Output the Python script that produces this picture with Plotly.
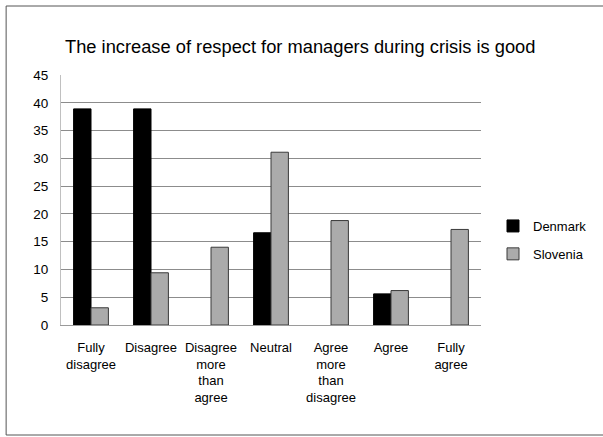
import plotly.graph_objects as go

categories = ["Fully<br>disagree", "Disagree", "Disagree<br>more<br>than<br>agree", "Neutral",
              "Agree<br>more<br>than<br>disagree", "Agree", "Fully<br>agree"]
denmark = [38.9, 38.9, None, 16.6, None, 5.6, None]
slovenia = [3.1, 9.4, 14.0, 31.1, 18.8, 6.2, 17.2]
y_ticks = [0, 5, 10, 15, 20, 25, 30, 35, 40, 45]

W, H = 603, 437
L, R, T, B = 61, 482, 75, 325

fig = go.Figure()
fig.add_trace(go.Bar(x=categories, y=denmark, name="Denmark", legendgroup="a",
                     marker=dict(color="#000000", line=dict(color="#000000", width=1))))
fig.add_trace(go.Bar(x=categories, y=slovenia, name="Slovenia", legendgroup="b",
                     marker=dict(color="#ababab", line=dict(color="#3a3a3a", width=1))))

def px(x):
    return (x - L) / (R - L)

def py(y):
    return (B - y) / (B - T)

fig.update_layout(
    width=W, height=H,
    margin=dict(l=L, r=W - R, t=T, b=H - B),
    paper_bgcolor="white", plot_bgcolor="white",
    font=dict(family="Liberation Sans", size=13, color="#000000"),
    bargap=0.42, bargroupgap=0,
    title=dict(text="The increase of respect for managers during crisis is good",
               x=px(65), xanchor="left", xref="paper",
               y=1 - 47 / H, yanchor="middle",
               font=dict(family="Liberation Sans", size=18.3, color="#000000")),
    showlegend=True,
    legend=dict(x=px(493), xanchor="left", y=py(240), yanchor="middle",
                font=dict(size=13), tracegroupgap=8, itemwidth=30,
                bgcolor="rgba(0,0,0,0)"),
    shapes=[dict(type="rect", xref="paper", yref="paper",
                 x0=px(6), x1=px(700), y0=py(435), y1=py(6),
                 line=dict(color="#555555", width=1), fillcolor="rgba(0,0,0,0)", layer="below")],
)
fig.update_xaxes(showgrid=False, showline=True, linecolor="#9a9a9a", linewidth=1,
                 ticks="outside", ticklen=10, tickcolor="rgba(0,0,0,0)",
                 tickfont=dict(size=13), tickangle=0)
fig.update_yaxes(range=[0, 45], tickvals=y_ticks, showgrid=True, gridcolor="#8c8c8c", gridwidth=1,
                 showline=True, linecolor="#c0c0c0", linewidth=1, zeroline=False,
                 ticks="outside", ticklen=9, tickcolor="rgba(0,0,0,0)",
                 tickfont=dict(size=13.5))

fig.write_html("out.html", config={"displayModeBar": False},
               post_script="document.body.style.margin='0';")
